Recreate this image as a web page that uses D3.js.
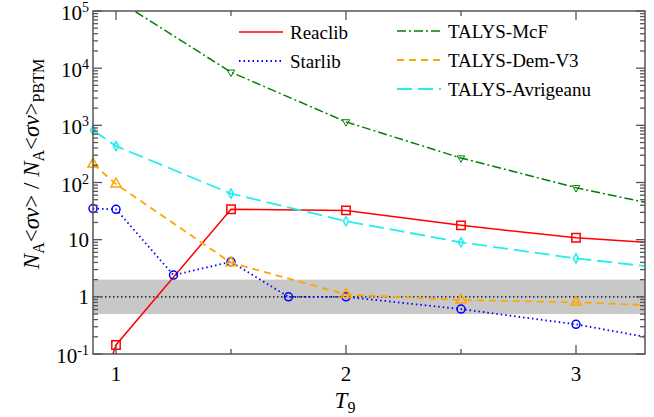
<!DOCTYPE html>
<html><head><meta charset="utf-8">
<script src="https://cdn.jsdelivr.net/npm/d3@7"></script>
</head><body style="margin:0;background:#fff"><svg id="c" width="654" height="417"></svg>
<script>
const T9 = [0.9, 1.0, 1.5, 2.0, 2.5, 3.0, 3.3];
const reaclib = [0.009, 0.144, 34, 32.5, 17.8, 10.8, 9.0];
const starlibT9 = [0.9, 1.0, 1.25, 1.5, 1.75, 2.0, 2.5, 3.0, 3.3];
const starlib = [35, 34, 2.4, 4.1, 1.0, 1.0, 0.61, 0.33, 0.20];
const talysMcF = [3e5, 1.6e5, 8500, 1150, 268, 81, 45];
const talysDemV3 = [210, 94, 3.95, 1.1, 0.88, 0.80, 0.72];
const talysAvrigeanu = [822, 433, 64, 21, 9.0, 4.7, 3.45];
const xTicks = [1, 2, 3];
const xMinorTicks = [1.5, 2.5];
const yTickExps = [-1, 0, 1, 2, 3, 4, 5];
const band = [0.5, 2];

const FONT = '"Liberation Serif", monospace';
const svg = d3.select("#c");
const L = 93, R = 645, T = 11, B = 354;
const x = d3.scaleLinear().domain([0.9, 3.3]).range([L, R]);
const y = d3.scaleLog().domain([0.1, 1e5]).range([B, T]);

svg.append("defs").append("clipPath").attr("id", "clip")
  .append("rect").attr("x", L).attr("y", T).attr("width", R - L).attr("height", B - T);

svg.append("rect").attr("x", L).attr("width", R - L)
  .attr("y", y(band[1])).attr("height", y(band[0]) - y(band[1])).attr("fill", "#c8c8c8");
svg.append("line").attr("x1", L).attr("x2", R).attr("y1", y(1)).attr("y2", y(1))
  .attr("stroke", "#000").attr("stroke-width", 1.2).attr("stroke-dasharray", "1.5,2.5");

const series = [
  {name: "Reaclib", xs: T9, ys: reaclib, color: "#ff0000", dash: "none", w: 1.5, marker: "square"},
  {name: "Starlib", xs: starlibT9, ys: starlib, color: "#0000ff", dash: "1.5,3", w: 1.8, marker: "circle"},
  {name: "TALYS-McF", xs: T9, ys: talysMcF, color: "#008000", dash: "9,3,2,3", w: 1.5, marker: "tridown"},
  {name: "TALYS-Dem-V3", xs: T9, ys: talysDemV3, color: "#ffa500", dash: "7,5", w: 1.8, marker: "triangle"},
  {name: "TALYS-Avrigeanu", xs: T9, ys: talysAvrigeanu, color: "#22eeee", dash: "15,6", w: 1.8, marker: "diamond"}
];

const line = d3.line().x(d => x(d[0])).y(d => y(d[1]));
const symbols = {
  square: d3.symbolSquare, circle: d3.symbolCircle, triangle: d3.symbolTriangle,
  tridown: d3.symbolTriangle, diamond: d3.symbolDiamond
};
const sizes = {square: 70, circle: 50, triangle: 45, tridown: 24, diamond: 24};

series.forEach(s => {
  const pts = s.xs.map((v, i) => [v, s.ys[i]]);
  svg.append("path").datum(pts).attr("clip-path", "url(#clip)")
    .attr("d", line).attr("fill", "none").attr("stroke", s.color)
    .attr("stroke-width", s.w).attr("stroke-dasharray", s.dash);
  const sym = d3.symbol().type(symbols[s.marker]).size(sizes[s.marker]);
  svg.append("g").selectAll("path")
    .data(pts.filter(p => p[0] < 3.3 && p[1] >= 0.1 && p[1] <= 1e5))
    .join("path")
    .attr("transform", p => `translate(${x(p[0])},${y(p[1])})` + (s.marker === "tridown" ? " rotate(180)" : ""))
    .attr("d", sym).attr("fill", "none").attr("stroke", s.color)
    .attr("stroke-width", s.marker === "tridown" ? 1 : 1.5);
});

svg.append("rect").attr("x", L).attr("y", T).attr("width", R - L).attr("height", B - T)
  .attr("fill", "none").attr("stroke", "#555").attr("stroke-width", 1.5);

const tk = svg.append("g").attr("stroke", "#555").attr("stroke-width", 1.3);
function xtick(v, len) {
  tk.append("line").attr("x1", x(v)).attr("x2", x(v)).attr("y1", B).attr("y2", B - len);
  tk.append("line").attr("x1", x(v)).attr("x2", x(v)).attr("y1", T).attr("y2", T + len);
}
xTicks.forEach(v => xtick(v, 9));
xMinorTicks.forEach(v => xtick(v, 5));
function ytick(v, len) {
  tk.append("line").attr("x1", L).attr("x2", L + len).attr("y1", y(v)).attr("y2", y(v));
  tk.append("line").attr("x1", R).attr("x2", R - len).attr("y1", y(v)).attr("y2", y(v));
}
yTickExps.forEach((e, i) => {
  ytick(Math.pow(10, e), 9);
  if (i < yTickExps.length - 1) for (let k = 2; k <= 9; k++) ytick(k * Math.pow(10, e), 5);
});

function txt(size) {
  return svg.append("text").attr("font-family", FONT).attr("font-size", size);
}

xTicks.forEach(v => txt(21).attr("text-anchor", "middle").attr("x", x(v)).attr("y", 381).text(v));

yTickExps.forEach(e => {
  const t = txt(21).attr("text-anchor", "end").attr("x", 89);
  if (e === 0) t.attr("y", y(1) + 7).text("1");
  else if (e === 1) t.attr("y", y(10) + 7).text("10");
  else {
    t.attr("y", y(Math.pow(10, e)) + 9);
    t.append("tspan").text("10");
    t.append("tspan").attr("font-size", 14).attr("dy", -8).text(e);
  }
});

const xt = txt(23).attr("x", 345).attr("y", 408).attr("text-anchor", "middle");
xt.append("tspan").attr("font-style", "italic").text("T");
xt.append("tspan").attr("font-size", 16).attr("dy", 5).text("9");

const yt = txt(23).attr("transform", "translate(39,164) rotate(-90)").attr("text-anchor", "middle");
function nasv(g) {
  g.append("tspan").attr("font-style", "italic").text("N");
  g.append("tspan").attr("font-size", 16).attr("dy", 5).text("A");
  g.append("tspan").attr("dy", -5).text("<");
  g.append("tspan").attr("font-style", "italic").text("σv");
  g.append("tspan").text(">");
}
nasv(yt);
yt.append("tspan").text(" / ");
nasv(yt);
yt.append("tspan").attr("font-size", 16).attr("dy", 5).text("PBTM");

const leg = [
  {s: series[0], lx: 239, ly: 32},
  {s: series[1], lx: 239, ly: 61},
  {s: series[2], lx: 397, ly: 31},
  {s: series[3], lx: 397, ly: 60},
  {s: series[4], lx: 397, ly: 89}
];
leg.forEach(d => {
  svg.append("line").attr("x1", d.lx).attr("x2", d.lx + 44).attr("y1", d.ly).attr("y2", d.ly)
    .attr("stroke", d.s.color).attr("stroke-width", d.s.w).attr("stroke-dasharray", d.s.dash);
  txt(19).attr("x", d.lx + 51).attr("y", d.ly + 6.5).text(d.s.name);
});
</script></body></html>
